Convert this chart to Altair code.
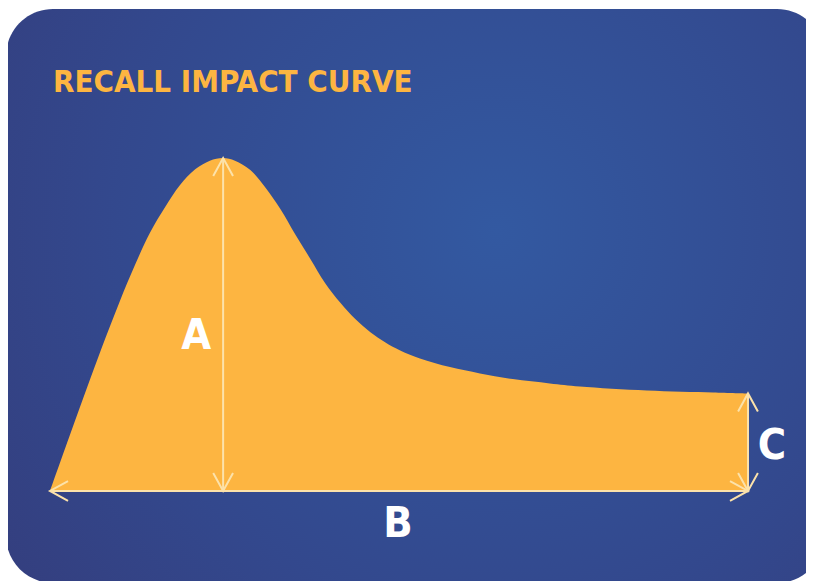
import altair as alt
import pandas as pd

# ---- data ----
title_text = "RECALL IMPACT CURVE"
span_labels = ["A", "B", "C"]
time_vals = [0, 2.9, 5.7, 7.9, 10.0, 12.2, 14.3, 16.5, 18.6, 20.8, 22.9, 24.8,
             26.5, 28.7, 30.8, 33.0, 35.1, 37.3, 39.4, 41.6, 43.7, 45.9, 48.0,
             50.1, 53.0, 57.3, 61.6, 66.3, 71.6, 75.9, 85.5, 95.0, 100]
recall_vals = [0, 17.1, 33.3, 45.7, 57.0, 68.0, 77.5, 85.3, 91.8, 96.6, 99.2, 100,
               99.2, 96.4, 91.3, 84.7, 77.2, 69.7, 62.5, 56.5, 51.7, 47.7, 44.7,
               42.3, 39.8, 37.2, 35.3, 33.6, 32.3, 31.4, 30.2, 29.6, 29.3]

# ---- derived tables ----
curve = pd.DataFrame({"t": time_vals, "r": recall_vals})
peak_i = max(range(len(recall_vals)), key=lambda i: recall_vals[i])
t_peak, r_peak = time_vals[peak_i], recall_vals[peak_i]
t0, t_end = time_vals[0], time_vals[-1]
r_end = recall_vals[-1]

segments = pd.DataFrame({
    "name": span_labels,
    "x": [t_peak, t0, t_end],
    "x2": [t_peak, t_end, t_end],
    "y": [0, 0, 0],
    "y2": [r_peak, 0, r_end],
})
heads = pd.DataFrame({
    "t": [t_peak, t_peak, t0, t_end, t_end, t_end],
    "r": [r_peak, 0, 0, 0, r_end, 0],
    "ang": [0, 180, 270, 90, 0, 180],
})
lab_a = pd.DataFrame({"t": [t_peak], "r": [r_peak / 2], "lab": [span_labels[0]]})
lab_b = pd.DataFrame({"t": [(t0 + t_end) / 2], "r": [0], "lab": [span_labels[1]]})
lab_c = pd.DataFrame({"t": [t_end], "r": [r_end / 2], "lab": [span_labels[2]]})

W, H = 798, 573
xs = alt.Scale(domain=[-6.02, 108.31], nice=False, zero=False)
ys = alt.Scale(domain=[-27.03, 145.05], nice=False, zero=False)
X = lambda f: alt.X(f, type="quantitative", scale=xs, axis=None)
Y = lambda f: alt.Y(f, type="quantitative", scale=ys, axis=None)

ORANGE = "#FDB541"
CREAM = "#FCE2AA"
FONT = "'DejaVu Sans Condensed', 'Liberation Sans Narrow', sans-serif"

grad = alt.RadialGradient(
    gradient="radial",
    x1=0.6, y1=0.42, r1=0.0,
    x2=0.6, y2=0.42, r2=0.8,
    stops=[alt.GradientStop(color="#3359A1", offset=0),
           alt.GradientStop(color="#33488D", offset=0.6),
           alt.GradientStop(color="#343C7B", offset=1)],
)

one = pd.DataFrame({"k": [0]})

card = alt.Chart(one).mark_rect(cornerRadius=47, color=grad).encode(
    x=alt.value(-2), x2=alt.value(816), y=alt.value(1), y2=alt.value(575)
)

title = alt.Chart(pd.DataFrame({"txt": [title_text]})).mark_text(
    font=FONT, fontWeight="bold", fontSize=31, color=ORANGE,
    align="left", baseline="alphabetic"
).encode(x=alt.value(45), y=alt.value(84), text="txt:N")

area = alt.Chart(curve).mark_area(color=ORANGE, interpolate="catmull-rom").encode(
    x=X("t"), y=Y("r")
)

rules = alt.Chart(segments).mark_rule(color=CREAM, strokeWidth=2).encode(
    x=X("x"), x2="x2:Q", y=Y("y"), y2="y2:Q"
)

arrowheads = alt.Chart(heads).mark_point(
    shape="M-0.55,1L0,0L0.55,1", filled=False, color=CREAM,
    strokeWidth=2, size=1296, opacity=1
).encode(x=X("t"), y=Y("r"), angle=alt.Angle("ang:Q", scale=None))

def label(df, dx, dy):
    return alt.Chart(df).mark_text(
        font=FONT, fontWeight="bold", fontSize=43, color="white",
        align="center", baseline="alphabetic", dx=dx, dy=dy
    ).encode(x=X("t"), y=Y("r"), text="lab:N")

chart = alt.layer(
    card, title, area, rules, arrowheads,
    label(lab_a, -27, 24.5), label(lab_b, -1, 46), label(lab_c, 24, 17),
).properties(
    width=W, height=H,
    autosize=alt.AutoSizeParams(type="none"),
    padding=0,
    background="white",
).configure_view(stroke=None)

chart.save("out.html", embed_options={"renderer": "svg", "actions": False})
